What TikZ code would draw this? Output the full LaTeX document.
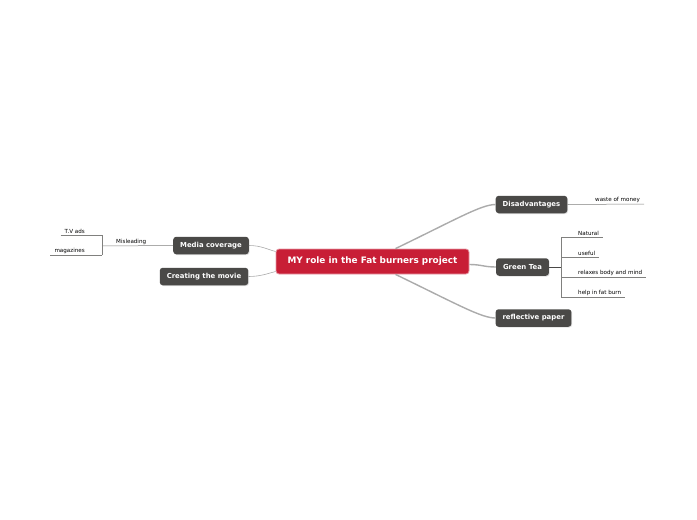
\documentclass[tikz,border=0pt]{standalone}
\usepackage{fontspec}
\setmainfont{DejaVu Sans}
\usepackage{xcolor}
\usetikzlibrary{positioning,calc,shadows}
\definecolor{rootred}{HTML}{C81E36}
\definecolor{topicgrey}{HTML}{4A4947}
\definecolor{linegrey}{HTML}{ABABAB}
\tikzset{
  rootbox/.style={draw=rootred!45,line width=0.8pt,fill=rootred,rounded corners=3pt,
    text=white,font=\bfseries\fontsize{8.9}{10}\selectfont,inner xsep=9pt,
    minimum height=25pt,minimum width=193pt},
  topicbox/.style={fill=topicgrey,rounded corners=3pt,text=white,
    font=\bfseries\fontsize{6.9}{8}\selectfont,inner xsep=7pt,minimum height=17.5pt,
    drop shadow={shadow xshift=0.8pt,shadow yshift=-0.8pt,opacity=0.25}},
  leaf/.style={inner xsep=4pt,inner ysep=1.5pt,font=\fontsize{5.6}{6.5}\selectfont},
  trunk/.style={draw=linegrey,line width=1.4pt},
  twig/.style={draw=linegrey,line width=0.6pt},
  fork/.style={draw=topicgrey!70,line width=0.5pt},
}

\begin{document}
\begin{tikzpicture}[x=1pt,y=-1pt]
\useasboundingbox (0,0) rectangle (697,520);
% main topics
\node[rootbox] (root) at (372.5,261.5) {MY role in the Fat burners project};
\node[topicbox] (dis) at (531.5,204.5) {Disadvantages};
\node[topicbox] (gt) at (522.5,267) {Green Tea};
\node[topicbox] (rp) at (533.5,318) {reflective paper};
\node[topicbox] (mc) at (211,245.5) {Media coverage};
\node[topicbox] (cm) at (204,276.5) {Creating the movie};
\draw[trunk] ([xshift=23pt]root.north) .. controls +(62,-30) and +(-14,0) .. (dis.west);
\draw[trunk] ([yshift=-3pt]root.east) .. controls +(12,0) and +(-12,0) .. (gt.west);
\draw[trunk] ([xshift=23pt]root.south) .. controls +(62,30) and +(-14,0) .. (rp.west);
\draw[twig] (mc.east) .. controls +(12,0) and +(-8,-2) .. ([yshift=10pt]root.west);
\draw[twig] (cm.east) .. controls +(12,0) and +(-8,2) .. ([yshift=-10pt]root.west);
% leaves right
\node[leaf,anchor=south west] (waste) at (591,204) {waste of money};
\draw[fork] (dis.east) -- (waste.south east);
\coordinate (gtfork) at (561,267);
\node[leaf,anchor=south west] (nat) at (574,237) {Natural};
\node[leaf,anchor=south west] (use) at (574,257) {useful};
\node[leaf,anchor=south west] (rel) at (574,277) {relaxes body and mind};
\node[leaf,anchor=south west] (help) at (574,297) {help in fat burn};
\draw[fork,line width=0.9pt,draw=topicgrey] (gt.east) -- (gtfork);
\draw[fork] (gtfork |- nat.south) -- (gtfork |- help.south);
\foreach \n in {nat,use,rel,help}
  \draw[fork] (gtfork |- \n.south) -- (\n.south east);
% leaves left
\coordinate (misfork) at (102,246);
\node[leaf,anchor=south west] (mis) at (112,246) {Misleading};
\draw[fork] (mc.west) -- (misfork);
\node[leaf,anchor=south east] (tv) at (89,235) {T.V ads};
\node[leaf,anchor=south east] (mag) at (89,255) {magazines};
\draw[fork] (misfork |- tv.south) -- (misfork |- mag.south);
\draw[fork] (tv.south west) -- (misfork |- tv.south);
\draw[fork] (mag.south west) -- (misfork |- mag.south);
\end{tikzpicture}
\end{document}
